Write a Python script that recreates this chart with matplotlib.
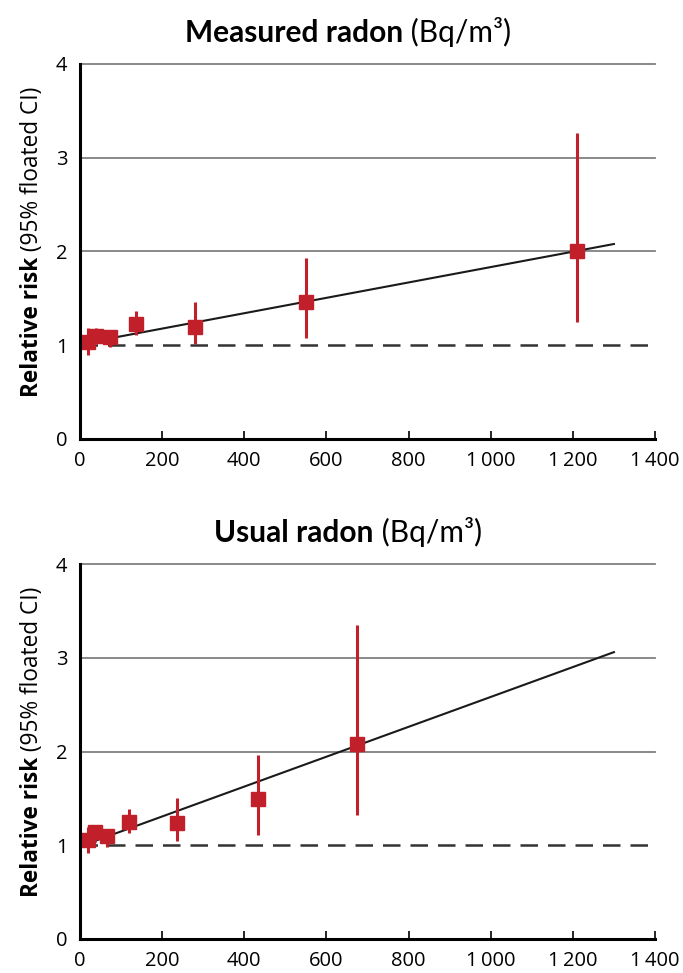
import matplotlib
matplotlib.use("Agg")
import matplotlib.pyplot as plt

plt.rcParams['font.family'] = ['Open Sans', 'DejaVu Sans']

# Measured radon
meas_x = [20, 39, 73, 136, 280, 550, 1210]
meas_rr = [1.04, 1.10, 1.09, 1.23, 1.20, 1.46, 2.00]
meas_lo = [0.90, 1.01, 0.98, 1.11, 1.01, 1.08, 1.25]
meas_hi = [1.18, 1.18, 1.13, 1.37, 1.46, 1.93, 3.26]
meas_fit_x = [20, 1300]
meas_fit_y = [1.03, 2.08]

# Usual radon
usual_x = [20, 37, 65, 119, 235, 433, 674]
usual_rr = [1.06, 1.14, 1.10, 1.25, 1.24, 1.49, 2.08]
usual_lo = [0.92, 1.03, 0.98, 1.13, 1.05, 1.11, 1.32]
usual_hi = [1.19, 1.19, 1.16, 1.39, 1.50, 1.96, 3.35]
usual_fit_x = [20, 1300]
usual_fit_y = [1.02, 3.06]

xticks = [0, 200, 400, 600, 800, 1000, 1200, 1400]
xticklabels = ['0', '200', '400', '600', '800', '1\u2009000', '1\u2009200', '1\u2009400']
yticks = [0, 1, 2, 3, 4]
title_bold = ['Measured radon', 'Usual radon']
title_reg = ' (Bq/m³)'
ylabel_bold = 'Relative risk'
ylabel_reg = ' (95% floated CI)'

RED = '#C1202B'
W, H = 683, 973

fig = plt.figure(figsize=(W / 100, H / 100), dpi=100)
ax1 = fig.add_axes([80 / W, 1 - 439 / H, 575 / W, 375 / H])
ax2 = fig.add_axes([80 / W, 1 - 939 / H, 575 / W, 375 / H])
renderer = fig.canvas.get_renderer()


def two_part(xc, yc, bold, reg, size, family, rotation=0):
    """Bold + regular text, centred at (xc, yc) in pixels from top-left; yc/xc is baseline."""
    ta = fig.text(0, 0, bold, fontsize=size, fontweight='bold', family=family)
    tb = fig.text(0, 0, reg, fontsize=size, family=family)
    w1 = ta.get_window_extent(renderer).width
    w2 = tb.get_window_extent(renderer).width
    ta.remove(); tb.remove()
    total = w1 + w2
    kw = dict(fontsize=size, family=family, rotation=rotation,
              rotation_mode='anchor', ha='left', va='baseline',
              transform=None)
    if rotation == 0:
        x0 = xc - total / 2
        yb = H - yc
        fig.text(x0, yb, bold, fontweight='bold', **kw)
        fig.text(x0 + w1, yb, reg, **kw)
    else:
        y0 = (H - yc) - total / 2
        fig.text(xc, y0, bold, fontweight='bold', **kw)
        fig.text(xc, y0 + w1, reg, **kw)


panels = [
    (ax1, meas_x, meas_rr, meas_lo, meas_hi, meas_fit_x, meas_fit_y, title_bold[0], 0),
    (ax2, usual_x, usual_rr, usual_lo, usual_hi, usual_fit_x, usual_fit_y, title_bold[1], 500),
]

for ax, x, rr, lo, hi, fx, fy, tb, off in panels:
    ax.set_xlim(0, 1400)
    ax.set_ylim(0, 4)
    for g in [2, 3, 4]:
        ax.axhline(g, color='#808080', lw=1.3, zorder=1, clip_on=False)
    ax.axhline(1, color='#333333', lw=1.8, ls=(0, (7, 4)), zorder=2)
    ax.plot(fx, fy, color='#1a1a1a', lw=1.5, zorder=3)
    yerr = [[r - l for r, l in zip(rr, lo)], [h - r for r, h in zip(rr, hi)]]
    ax.errorbar(x, rr, yerr=yerr, fmt='s', color=RED, ms=10, elinewidth=2.2,
                capsize=0, zorder=4, mec=RED)
    for s in ['top', 'right']:
        ax.spines[s].set_visible(False)
    for s in ['left', 'bottom']:
        ax.spines[s].set_linewidth(2.2)
        ax.spines[s].set_color('black')
        ax.spines[s].set_zorder(5)
    ax.set_xticks(xticks)
    ax.set_xticklabels(xticklabels)
    ax.set_yticks(yticks)
    ax.tick_params(axis='x', direction='in', length=6, width=1.2, labelsize=14.5, pad=9)
    ax.tick_params(axis='y', length=0, labelsize=14.5, pad=9)
    two_part(348, 42 + off, tb, title_reg, 21.5, ['Lato', 'DejaVu Sans'])
    two_part(38, 242 + off, ylabel_bold, ylabel_reg, 16.3, ['Open Sans', 'DejaVu Sans'], rotation=90)

fig.savefig('out.png', dpi=100)
